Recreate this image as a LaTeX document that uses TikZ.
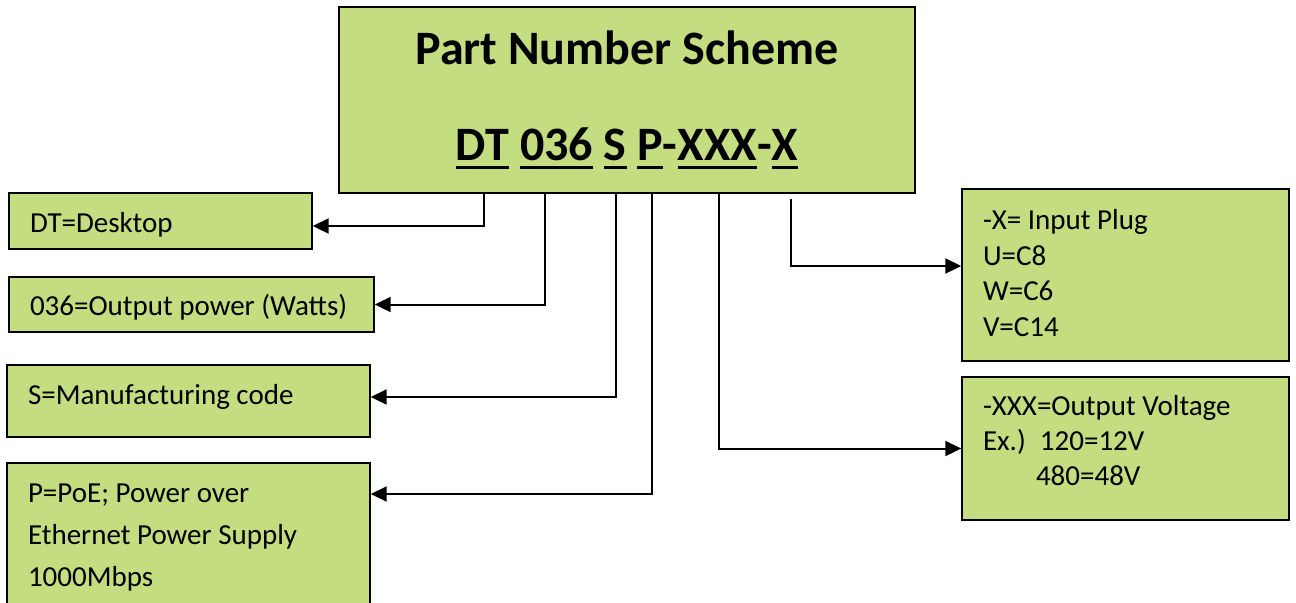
\documentclass[tikz,border=0pt]{standalone}
\usepackage{fontspec}
\setmainfont{Carlito}
\usetikzlibrary{arrows.meta}
\definecolor{partgreen}{RGB}{195,221,128}
\newsavebox{\partbox}
\newcommand{\partul}[1]{\sbox{\partbox}{#1}\rlap{\rule[-4.5pt]{\wd\partbox}{1.5pt}}\usebox{\partbox}}
\tikzset{
  codebox/.style={draw, line width=0.7pt, fill=partgreen, rectangle, inner xsep=10.5pt, inner ysep=0pt, align=flush left, font=\fontsize{14.5}{17.5}\selectfont},
  codelink/.style={line width=1pt, -{Triangle[length=8pt,width=7.5pt]}}
}
\begin{document}
\begin{tikzpicture}[x=0.5pt,y=-0.5pt]
\clip (0,0) rectangle (1296,602);
\node[codebox, align=center, minimum width=288pt, minimum height=93pt, font=\fontsize{24}{48}\selectfont\bfseries] (code0) at (627,100){Part Number Scheme\\\partul{DT} \partul{036} \partul{S} \partul{P}-\partul{XXX}-\partul{X}};
\node[codebox, text width=130.5pt, minimum height=28pt, text height=16pt, text depth=5pt] (code1) at (160.5,221){DT=Desktop};
\node[codebox, text width=161.5pt, minimum height=27.5pt, text height=15.5pt, text depth=5pt] (code2) at (191.5,304.5){036=Output power (Watts)};
\node[codebox, text width=160.5pt, minimum height=36pt, text height=17pt, text depth=14pt] (code3) at (188.5,401){S=Manufacturing code};
\node[codebox, text width=160.5pt, minimum height=72pt, text height=12pt, text depth=45pt, font=\fontsize{14.5}{21}\selectfont] (code4) at (188.5,535){P=PoE; Power over\\Ethernet Power Supply\\1000Mbps};
\node[codebox, text width=142.5pt, minimum height=86pt, text height=9.5pt, text depth=55pt, font=\fontsize{14.5}{17.75}\selectfont] (code5) at (1125.5,275){-X= Input Plug\\U=C8\\W=C6\\V=C14};
\node[codebox, text width=142.5pt, minimum height=71.5pt, text height=11.5pt, text depth=45pt] (code6) at (1125.5,448.5){-XXX=Output Voltage\\\makebox[28.5pt][l]{Ex.)}120=12V\\\hspace{26.5pt}480=48V};
\draw[codelink] (code0.south west) ++(146,0) |- ([yshift=-2.5pt]code1.east);
\draw[codelink] (code0.south west) ++(207,0) |- (code2.east);
\draw[codelink] (code0.south west) ++(278,0) |- ([yshift=2pt]code3.east);
\draw[codelink] (code0.south west) ++(314,0) |- ([yshift=20.5pt]code4.east);
\draw[codelink] (code0.south west) ++(381,0) |- (code6.west);
\draw[codelink] (code0.south west) ++(453,5) |- ([yshift=4.5pt]code5.west);
\end{tikzpicture}
\end{document}
